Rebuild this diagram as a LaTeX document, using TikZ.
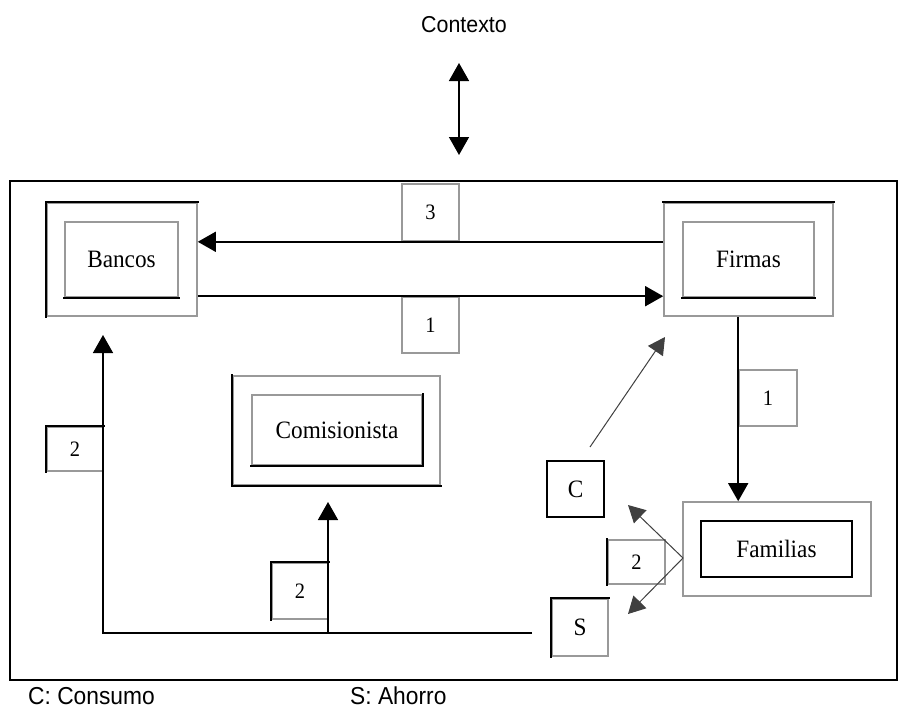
\documentclass[tikz,border=0pt]{standalone}
\usepackage{fontspec}
\setmainfont[FakeStretch=0.93]{Liberation Serif}
\newfontfamily\arialf[FakeStretch=0.93]{Liberation Sans}
\usetikzlibrary{arrows.meta}
\begin{document}
\begin{tikzpicture}[x=1pt,y=-1pt,
  gbox/.style={draw=black!40,line width=1.6pt,inner sep=0pt,fill=white,font=\fontsize{25}{27}\selectfont},
  kbox/.style={gbox,draw=black},
  lbl/.style={gbox,font=\fontsize{22}{24}\selectfont},
  blk/.style={draw=black,line width=1.6pt,line cap=rect},
  arr/.style={line width=1.5pt,-{Triangle[length=18pt,width=20pt]}},
  thinarr/.style={line width=1pt,draw=black!75,-{Triangle[length=17pt,width=18pt]}},
  sans/.style={font=\arialf\fontsize{23}{25}\selectfont,inner sep=0pt},
  legend/.style={font=\arialf\fontsize{24.5}{26}\selectfont,inner sep=0pt,anchor=base west}]
\useasboundingbox (0,0) rectangle (899,709);
\fill[white] (0,0) rectangle (899,709);
\draw[line width=1.5pt] (10,181) rectangle (897,680);

% context
\node[sans,anchor=base] (ctx) at (464,33) {Contexto};
\coordinate (ctxtop) at (459,63);
\coordinate (ctxbot) at (459,155);
\draw[line width=1.5pt,{Triangle[length=18pt,width=20pt]}-{Triangle[length=18pt,width=20pt]}] (ctxtop) -- (ctxbot);

% main boxes
\node[gbox,minimum width=150pt,minimum height=113pt] (bancos) at (122,259.5) {};
\node[gbox,minimum width=113pt,minimum height=75pt] (bancosi) at (121.5,259.5) {Bancos};
\node[gbox,minimum width=169pt,minimum height=113pt] (firmas) at (748.5,259.5) {};
\node[gbox,minimum width=131pt,minimum height=75pt] (firmasi) at (748.5,259.5) {Firmas};
\node[gbox,minimum width=207pt,minimum height=109pt] (comis) at (336.5,430.5) {};
\node[gbox,minimum width=170pt,minimum height=70pt] (comisi) at (337,430) {Comisionista};
\node[gbox,minimum width=188pt,minimum height=94pt] (familias) at (777,549) {};
\node[kbox,minimum width=151pt,minimum height=56pt] (familiasi) at (776.5,549) {Familias};
\node[kbox,minimum width=57pt,minimum height=56pt] (cbox) at (575.5,489) {C};
\node[gbox,minimum width=56pt,minimum height=57pt] (sbox) at (580,627.5) {S};

% label boxes
\node[lbl,minimum width=57pt,minimum height=57pt] (lthree) at (430.5,212.5) {3};
\node[lbl,minimum width=57pt,minimum height=56pt] (lonea) at (430.5,325) {1};
\node[lbl,minimum width=58pt,minimum height=56pt] (loneb) at (768,398) {1};
\node[lbl,minimum width=56pt,minimum height=44pt] (ltwoa) at (75,449) {2};
\node[lbl,minimum width=56pt,minimum height=56pt] (ltwob) at (300,591) {2};
\node[lbl,minimum width=57pt,minimum height=44pt] (ltwoc) at (636.5,562) {2};

% black sides of the boxes
\draw[blk] (bancos.south west) -- (bancos.north west) -- (bancos.north east);
\draw[blk] (bancosi.south west) -- (bancosi.south east);
\draw[blk] (firmas.north west) -- (firmas.north east);
\draw[blk] (firmasi.south west) -- (firmasi.south east);
\draw[blk] (comis.north west) -- (comis.south west) -- (comis.south east);
\draw[blk] (comisi.north east) -- (comisi.south east) -- (comisi.south west);
\draw[blk] (sbox.south west) -- (sbox.north west) -- (sbox.north east);
\draw[blk] (ltwoa.south west) -- (ltwoa.north west) -- (ltwoa.north east);
\draw[blk] (ltwob.south west) -- (ltwob.north west) -- (ltwob.north east);
\draw[blk] (ltwoc.south west) -- (ltwoc.north west);

% connectors
\draw[arr] (firmas.west |- lthree.south) -- (bancos.east |- lthree.south);
\draw[arr] (bancos.east |- lonea.north) -- (firmas.west |- lonea.north);
\draw[arr] (firmas.south -| loneb.west) -- (familias.north -| loneb.west);

\coordinate (cstart) at (590,447);
\coordinate (firmastip) at (665,337);
\draw[thinarr] (cstart) -- (firmastip);

\coordinate (fsplit) at (683,558);
\coordinate (ctip) at (628,505);
\coordinate (stip) at (628,614);
\draw[thinarr] (fsplit) -- (ctip);
\draw[thinarr] (fsplit) -- (stip);

\coordinate (send) at (532,633);
\coordinate (bancostip) at (103,335);
\coordinate (comistip) at (328,502);
\draw[arr] (send) -- (bancostip |- send) -- (bancostip);
\draw[arr] (comistip |- send) -- (comistip);

% legend
\node[legend] (lc) at (28,704) {C: Consumo};
\node[legend] (ls) at (350,704) {S: Ahorro};
\end{tikzpicture}
\end{document}
